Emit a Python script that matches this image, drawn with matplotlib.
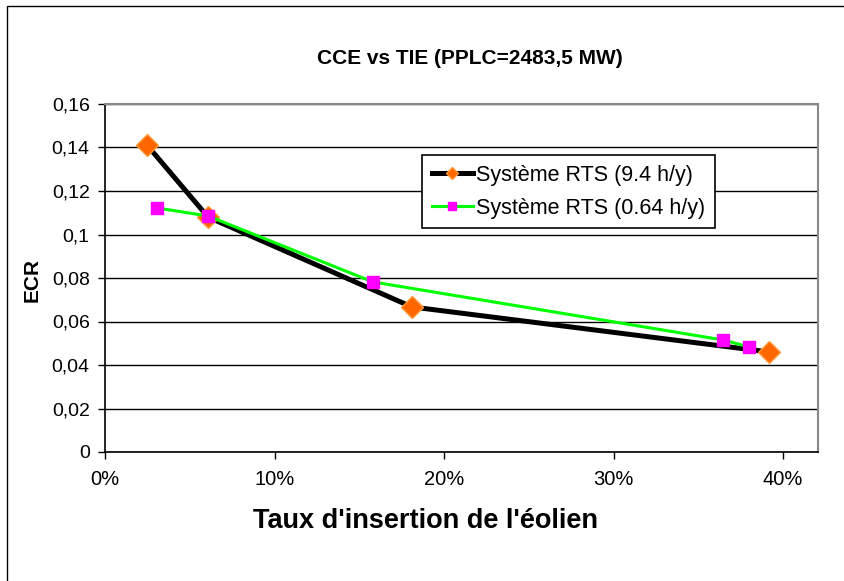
import matplotlib.pyplot as plt
from matplotlib.patches import Rectangle
from matplotlib.ticker import FuncFormatter

plt.rcParams['font.family'] = ['Liberation Sans', 'DejaVu Sans']

# Système RTS (9.4 h/y)
tie_a = [0.0248, 0.0608, 0.181, 0.3917]
ecr_a = [0.1411, 0.108, 0.0667, 0.046]
# Système RTS (0.64 h/y)
tie_b = [0.0307, 0.0608, 0.158, 0.3646, 0.380]
ecr_b = [0.1122, 0.1085, 0.0782, 0.0515, 0.0483]

labels = ["Système RTS (9.4 h/y)", "Système RTS (0.64 h/y)"]
yticks = [0, 0.02, 0.04, 0.06, 0.08, 0.1, 0.12, 0.14, 0.16]
xticks = [0, 0.1, 0.2, 0.3, 0.4]

fig = plt.figure(figsize=(8.45, 5.81), dpi=100)
ax = fig.add_axes([105/845, 1 - 452/581, 713/845, 348/581])

# outer chart frame (only left/top visible in the crop)
fig.patches.append(Rectangle((7/845, -0.1), 1.2, 1 - 6/581 + 0.1, transform=fig.transFigure,
                             fill=False, edgecolor='black', linewidth=1.0))

ax.plot(tie_a, ecr_a, color='black', lw=3.6, marker='D', markersize=11,
        markerfacecolor='#FF6600', markeredgecolor='#FF9933', markeredgewidth=1,
        label=labels[0], zorder=3)
ax.plot(tie_b, ecr_b, color='#00FF00', lw=2.2, marker='s', markersize=8.5,
        markerfacecolor='#FF00FF', markeredgecolor='#FF00FF',
        label=labels[1], zorder=4)

ax.set_xlim(0, 0.4206)
ax.set_ylim(0, 0.16)
ax.set_yticks(yticks)
ax.set_xticks(xticks)
ax.yaxis.set_major_formatter(FuncFormatter(lambda v, p: ('%g' % round(v, 2)).replace('.', ',')))
ax.xaxis.set_major_formatter(FuncFormatter(lambda v, p: '%d%%' % round(v * 100)))
ax.tick_params(axis='y', labelsize=14, direction='out', length=5, width=1, color='black', pad=6)
ax.tick_params(axis='x', labelsize=14.5, direction='out', length=5, width=1, color='black', pad=8)
ax.grid(axis='y', color='black', lw=1)
ax.set_axisbelow(True)
for s in ['top', 'right']:
    ax.spines[s].set_color('#888888')
    ax.spines[s].set_linewidth(1.5)
for s in ['left', 'bottom']:
    ax.spines[s].set_color('black')
    ax.spines[s].set_linewidth(1.2)

leg = ax.legend(loc='upper left', bbox_to_anchor=(0.445, 0.853), borderaxespad=0,
                fancybox=False, framealpha=1, edgecolor='black', fontsize=15.5,
                handlelength=1.9, markerscale=0.6, borderpad=0.45, labelspacing=0.55,
                handletextpad=0.15)
leg.get_frame().set_linewidth(1.2)

fig.text(470/845, 1 - 58/581, "CCE vs TIE (PPLC=2483,5 MW)", ha='center', va='center',
         fontsize=15, fontweight='bold')
fig.text(426/845, 1 - 521/581, "Taux d'insertion de l'éolien", ha='center', va='center',
         fontsize=19.5, fontweight='bold')
fig.text(32/845, 1 - 280/581, "ECR", ha='center', va='center', rotation=90,
         fontsize=15, fontweight='bold')

fig.savefig('out.png', dpi=100)
